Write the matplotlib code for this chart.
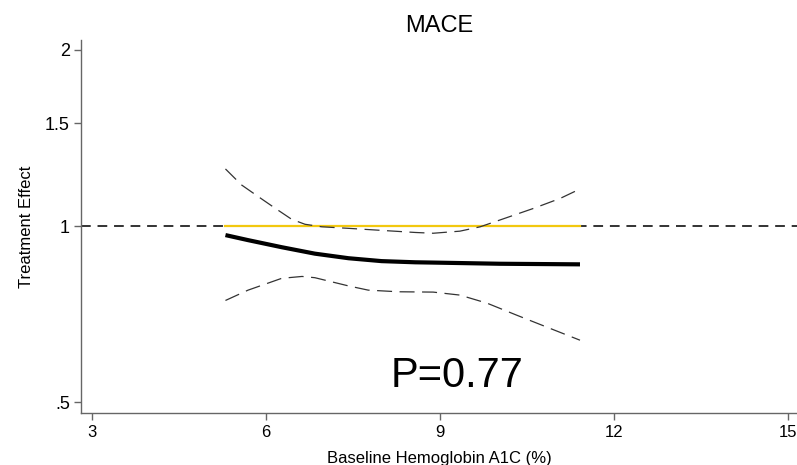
import matplotlib
matplotlib.use("Agg")
import matplotlib.pyplot as plt
from matplotlib.ticker import FixedLocator, FixedFormatter, NullLocator

plt.rcParams['font.family'] = ['Liberation Sans', 'DejaVu Sans']

# fitted treatment effect vs baseline HbA1c
a1c = [5.3, 5.69, 6.27, 6.84, 7.42, 7.99, 8.57, 8.88, 10.03, 11.41]
effect = [0.965, 0.946, 0.920, 0.897, 0.881, 0.871, 0.867, 0.866, 0.862, 0.860]

# confidence band
upper_x = [5.3, 5.58, 5.87, 6.16, 6.44, 6.67, 6.96, 7.42, 7.99, 8.57, 8.88,
           9.34, 9.69, 10.03, 10.61, 11.07, 11.41]
upper = [1.252, 1.175, 1.122, 1.072, 1.027, 1.007, 0.997, 0.991, 0.983, 0.975,
         0.972, 0.980, 0.997, 1.024, 1.072, 1.115, 1.157]

lower_x = [5.3, 5.69, 6.27, 6.62, 6.84, 7.42, 7.76, 8.28, 8.88, 9.34, 9.81,
           10.32, 10.90, 11.41]
lower = [0.746, 0.777, 0.814, 0.820, 0.816, 0.790, 0.777, 0.772, 0.771, 0.762,
         0.738, 0.704, 0.668, 0.638]

xticks = [3, 6, 9, 12, 15]
yticks = [0.5, 1, 1.5, 2]
ytick_labels = ['.5', '1', '1.5', '2']

fig = plt.figure(figsize=(7.97, 4.65), dpi=100)
ax = fig.add_axes([0.1016, 0.1118, 0.8984, 0.8022])

ax.axhline(1, color='#333333', lw=1.4, dashes=(5, 3.5), zorder=1)
ax.plot([a1c[0], a1c[-1]], [1, 1], color='#f2c80f', lw=1.6, zorder=2)
ax.plot(upper_x, upper, color='#333333', lw=0.9, dashes=(12, 6), zorder=3)
ax.plot(lower_x, lower, color='#333333', lw=0.9, dashes=(12, 6), zorder=3)
ax.plot(a1c, effect, color='black', lw=3, solid_capstyle='butt',
        solid_joinstyle='round', zorder=4)

ax.set_yscale('log')
ax.set_xlim(2.81, 15.15)
ax.set_ylim(0.479, 2.08)
ax.xaxis.set_major_locator(FixedLocator(xticks))
ax.yaxis.set_major_locator(FixedLocator(yticks))
ax.yaxis.set_major_formatter(FixedFormatter(ytick_labels))
ax.yaxis.set_minor_locator(NullLocator())

for s in ['top', 'right']:
    ax.spines[s].set_visible(False)
for s in ['left', 'bottom']:
    ax.spines[s].set_color('#666666')
    ax.spines[s].set_linewidth(1)
ax.tick_params(length=5, width=1, color='#666666', labelsize=12)
ax.tick_params(axis='y', labelsize=13, pad=3)

ax.set_title('MACE', fontsize=17, pad=6)
ax.set_xlabel('Baseline Hemoglobin A1C (%)', fontsize=12, labelpad=8)
ax.set_ylabel('Treatment Effect', fontsize=12, labelpad=8)

ax.text(8.14, 0.531, 'P=0.77', fontsize=30)

fig.savefig('out.png', dpi=100)
